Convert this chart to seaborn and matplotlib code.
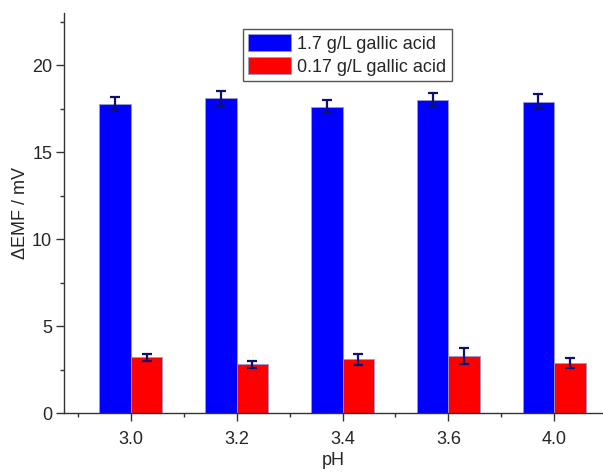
import pandas as pd
import matplotlib.pyplot as plt
import seaborn as sns
from matplotlib.ticker import MultipleLocator, FixedLocator

# valores
ph = ["3.0", "3.2", "3.4", "3.6", "4.0"]
alto = [17.78, 18.10, 17.62, 18.02, 17.90]
alto_err = [0.38, 0.43, 0.38, 0.37, 0.42]
bajo = [3.20, 2.80, 3.08, 3.28, 2.88]
bajo_err = [0.20, 0.20, 0.31, 0.45, 0.30]
series = ["1.7 g/L gallic acid", "0.17 g/L gallic acid"]
colores = ["#0000ff", "#ff0000"]

df = pd.DataFrame({
    "pH": ph * 2,
    "valor": alto + bajo,
    "serie": [series[0]] * len(ph) + [series[1]] * len(ph),
})

sns.set_style("ticks")
plt.rcParams["font.family"] = ["Liberation Sans", "DejaVu Sans"]

fig = plt.figure(figsize=(6.03, 4.72), dpi=100)
ax = fig.add_axes([64 / 603, 59 / 472, 1 - 64 / 603, (413 - 13) / 472])

sns.barplot(data=df, x="pH", y="valor", hue="serie", hue_order=series,
            palette=colores, width=0.6, errorbar=None, saturation=1,
            edgecolor="#9a9ac8", linewidth=0.6, ax=ax)

# barras de error sobre cada barra
for cont, err in zip(ax.containers, [alto_err, bajo_err]):
    xs = [b.get_x() + b.get_width() / 2 for b in cont]
    ys = [b.get_height() for b in cont]
    ax.errorbar(xs, ys, yerr=err, fmt="none", ecolor="#10106e",
                elinewidth=1.6, capsize=3.3, capthick=1.6, zorder=5)

ax.set_xlim(-0.63, 4.46)
ax.set_ylim(0, 23)
ax.yaxis.set_major_locator(MultipleLocator(5))
ax.yaxis.set_minor_locator(MultipleLocator(2.5))
ax.xaxis.set_minor_locator(FixedLocator([-0.5, 0.5, 1.5, 2.5, 3.5]))

ax.tick_params(which="major", direction="out", length=6, width=1, labelsize=13, color="#333333")
ax.tick_params(axis="x", which="major", pad=7)
ax.tick_params(axis="y", which="major", pad=2.5)
ax.tick_params(which="minor", direction="out", length=3, width=1, color="#333333")
for s in ["top", "right"]:
    ax.spines[s].set_visible(False)
for s in ["left", "bottom"]:
    ax.spines[s].set_color("#333333")
    ax.spines[s].set_linewidth(1)

ax.set_xlabel("pH", fontsize=13, labelpad=3)
ax.set_ylabel("\u0394EMF / mV", fontsize=13, labelpad=2)

ax.legend(loc="upper left", bbox_to_anchor=(243 / 603, 1 - 29 / 472),
          bbox_transform=fig.transFigure, borderaxespad=0, fontsize=13,
          frameon=True, fancybox=False, edgecolor="#555555", framealpha=1,
          handlelength=2.4, handleheight=1.1, labelspacing=0.22,
          handletextpad=0.33, borderpad=0.28, title=None)

plt.savefig("out.png", dpi=100)
